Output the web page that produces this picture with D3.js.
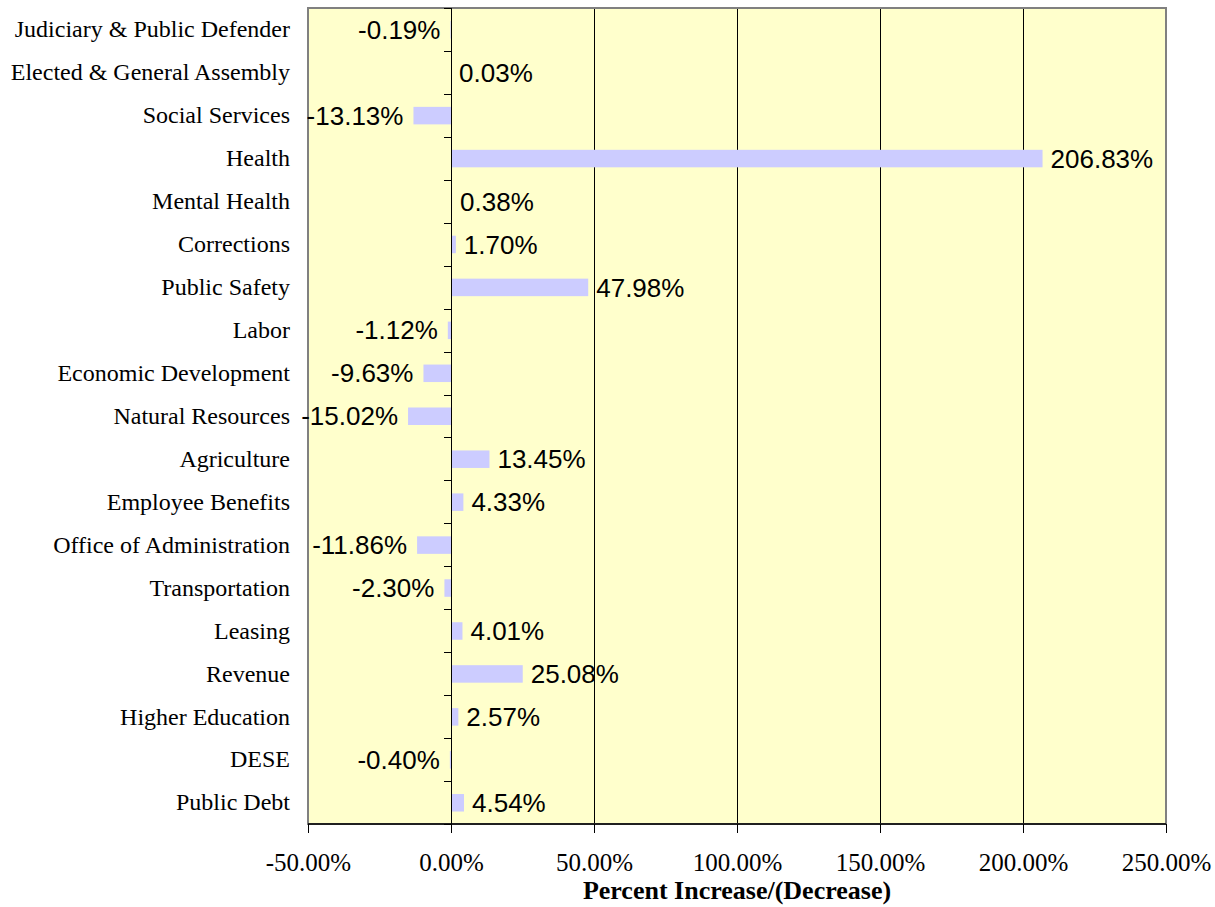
<!DOCTYPE html>
<html><head><meta charset="utf-8">
<script src="https://cdn.jsdelivr.net/npm/d3@7"></script>
<style>body{margin:0;background:#fff}</style>
</head><body><svg id="c" width="1215" height="907"></svg>
<script>
const categories = ["Judiciary & Public Defender","Elected & General Assembly","Social Services","Health","Mental Health","Corrections","Public Safety","Labor","Economic Development","Natural Resources","Agriculture","Employee Benefits","Office of Administration","Transportation","Leasing","Revenue","Higher Education","DESE","Public Debt"];
const values = [-0.19,0.03,-13.13,206.83,0.38,1.70,47.98,-1.12,-9.63,-15.02,13.45,4.33,-11.86,-2.30,4.01,25.08,2.57,-0.40,4.54];
const xTicks = [-50,0,50,100,150,200,250];
const xTitle = "Percent Increase/(Decrease)";

const svg = d3.select("#c");
const L=308,R=1166,T=8,B=824;
const x = d3.scaleLinear().domain([-50,250]).range([L,R]);
const yb = d3.scaleBand().domain(categories).range([T,B]);
const serif = "Liberation Serif, Times New Roman, serif";
const sans = "Liberation Sans, Arial, sans-serif";

svg.append("rect").attr("x",L).attr("y",T).attr("width",R-L).attr("height",B-T).attr("fill","#ffffcc");
// gridlines
svg.append("g").attr("shape-rendering","crispEdges").selectAll("line").data(xTicks.filter(d=>d>0&&d<250)).join("line")
  .attr("x1",d=>Math.round(x(d))+0.5).attr("x2",d=>Math.round(x(d))+0.5).attr("y1",T).attr("y2",B).attr("stroke","#000").attr("stroke-width",1);
// bars
svg.append("g").selectAll("rect").data(values).join("rect")
  .attr("x",d=>x(Math.min(0,d))).attr("width",d=>Math.abs(x(d)-x(0)))
  .attr("y",(d,i)=>yb(categories[i])+yb.bandwidth()/2-8.5).attr("height",17.5).attr("fill","#ccccff");
// border
svg.append("rect").attr("x",L).attr("y",T).attr("width",R-L).attr("height",B-T).attr("fill","none").attr("stroke","#808080").attr("stroke-width",2);
// zero axis
const x0 = Math.round(x(0))+0.5;
const gy = svg.append("g").attr("shape-rendering","crispEdges");
gy.append("line").attr("x1",x0).attr("x2",x0).attr("y1",T).attr("y2",B).attr("stroke","#000");
gy.selectAll("line.t").data(d3.range(categories.length+1)).join("line").attr("class","t")
  .attr("x1",x0-8).attr("x2",x0).attr("y1",i=>Math.round(T+i*yb.step())+0.5).attr("y2",i=>Math.round(T+i*yb.step())+0.5).attr("stroke","#000");
// category labels
svg.append("g").selectAll("text").data(categories).join("text")
  .attr("x",290).attr("y",d=>yb(d)+yb.bandwidth()/2).attr("dy","0.33em").attr("text-anchor","end")
  .attr("font-family",serif).attr("font-size",24).attr("fill","#000").text(d=>d);
// value labels
svg.append("g").selectAll("text").data(values).join("text")
  .attr("x",d=>d<0? x(d)-10 : x(d)+8).attr("text-anchor",d=>d<0?"end":"start")
  .attr("y",(d,i)=>yb(categories[i])+yb.bandwidth()/2).attr("dy","0.36em")
  .attr("font-family",sans).attr("font-size",26).attr("fill","#000")
  .text(d=>d.toFixed(2)+"%");
// x axis
const xa = d3.axisBottom(x).tickValues(xTicks).tickSize(9).tickFormat(d=>d.toFixed(2)+"%");
const gx = svg.append("g").attr("transform",`translate(0,${B})`).call(xa);
gx.select(".domain").attr("stroke","#000").attr("stroke-width",1.5).attr("d",`M${L},0H${R}`);
gx.selectAll(".tick line").attr("stroke","#000").attr("shape-rendering","crispEdges");
gx.selectAll("text").attr("font-family",serif).attr("font-size",25).attr("fill","#000").attr("y",47).attr("dy",0);
svg.append("text").attr("x",(L+R)/2).attr("y",899).attr("text-anchor","middle")
  .attr("font-family",serif).attr("font-weight","bold").attr("font-size",26).attr("fill","#000").text(xTitle);
</script></body></html>
